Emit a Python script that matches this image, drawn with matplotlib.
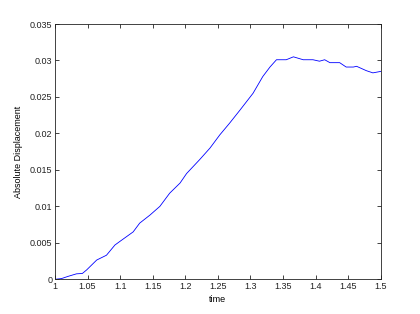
import matplotlib
matplotlib.use('Agg')
import matplotlib.pyplot as plt

# curve
time = [1.0, 1.01, 1.02, 1.033, 1.042, 1.0485, 1.064, 1.079, 1.092, 1.0997, 1.12, 1.13,
        1.1457, 1.161, 1.176, 1.192, 1.202, 1.222, 1.238, 1.253, 1.268, 1.284, 1.304,
        1.319, 1.330, 1.340, 1.355, 1.366, 1.381, 1.396, 1.406, 1.414, 1.422, 1.437,
        1.447, 1.458, 1.463, 1.478, 1.488, 1.5]
disp = [0.0, 0.0001, 0.0004, 0.00075, 0.0008, 0.00128, 0.00264, 0.0033, 0.0047, 0.0052,
        0.0065, 0.0077, 0.0088, 0.0100, 0.0118, 0.0132, 0.0145, 0.0164, 0.0180, 0.0198,
        0.0214, 0.0232, 0.0255, 0.0278, 0.0291, 0.0301, 0.0301, 0.0305, 0.0301, 0.0301,
        0.0299, 0.0301, 0.0297, 0.0297, 0.0291, 0.0291, 0.0292, 0.0286, 0.0283, 0.0285]

xticks = [1, 1.05, 1.1, 1.15, 1.2, 1.25, 1.3, 1.35, 1.4, 1.45, 1.5]
xticklabels = ['1', '1.05', '1.1', '1.15', '1.2', '1.25', '1.3', '1.35', '1.4', '1.45', '1.5']
yticks = [0, 0.005, 0.01, 0.015, 0.02, 0.025, 0.03, 0.035]
yticklabels = ['0', '0.005', '0.01', '0.015', '0.02', '0.025', '0.03', '0.035']

plt.rcParams['font.family'] = ['Liberation Sans', 'DejaVu Sans']

fig = plt.figure(figsize=(4.2, 3.14), dpi=100)
ax = fig.add_axes([55/420, 1 - 279.3/314, (380.7-55)/420, (279.3-24)/314])
ax.plot(time, disp, color='#0000ff', lw=0.6)

ax.set_xlim(1, 1.5)
ax.set_ylim(0, 0.035)
ax.set_xticks(xticks)
ax.set_xticklabels(xticklabels)
ax.set_yticks(yticks)
ax.set_yticklabels(yticklabels)
ax.tick_params(direction='in', length=3, width=0.6, labelsize=6.5,
               top=True, right=True, pad=2, colors='#222222')
for s in ax.spines.values():
    s.set_linewidth(0.6)
    s.set_color('#222222')

ax.set_xlabel('time', fontsize=6.5, labelpad=2.5)
ax.set_ylabel('Absolute Displacement', fontsize=6.5, labelpad=5)

fig.savefig('out.png', dpi=100)
